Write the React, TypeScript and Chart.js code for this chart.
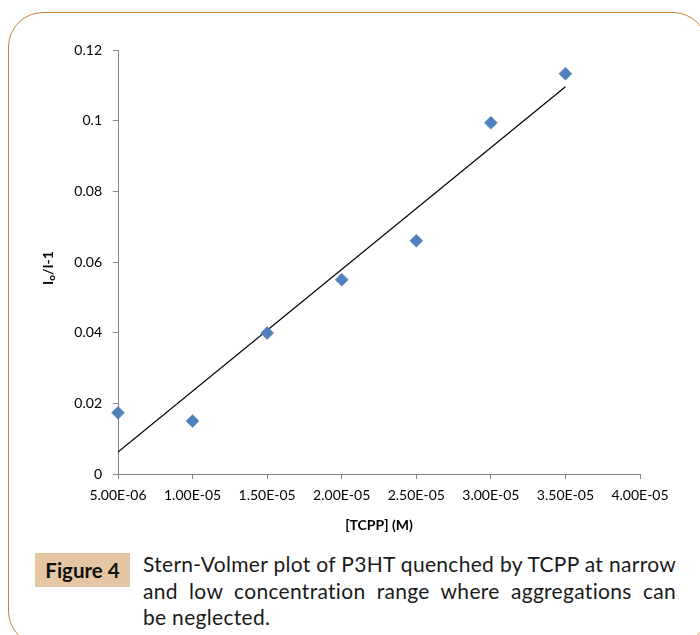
import React, { useEffect, useRef } from 'react';
import { Chart, registerables } from 'chart.js';

Chart.register(...registerables);

const concentrations = [5e-6, 1e-5, 1.5e-5, 2e-5, 2.5e-5, 3e-5, 3.5e-5];
const ratioValues = [0.0173, 0.015, 0.0399, 0.055, 0.066, 0.0994, 0.1133];
const trendX = [5e-6, 3.5e-5];
const trendY = [0.0062, 0.1096];
const xTickValues = [5e-6, 1e-5, 1.5e-5, 2e-5, 2.5e-5, 3e-5, 3.5e-5, 4e-5];
const xTickLabels = ['5.00E-06', '1.00E-05', '1.50E-05', '2.00E-05', '2.50E-05', '3.00E-05', '3.50E-05', '4.00E-05'];
const yTickValues = [0, 0.02, 0.04, 0.06, 0.08, 0.1, 0.12];
const yTickLabels = ['0', '0.02', '0.04', '0.06', '0.08', '0.1', '0.12'];
const xTitle = '[TCPP] (M)';
const yTitleMain = 'I';
const yTitleSub = 'o';
const yTitleRest = '/I-1';
const figureLabel = 'Figure 4';
const captionLines = [
  'Stern-Volmer plot of P3HT quenched by TCPP at narrow',
  'and low concentration range where aggregations can',
  'be neglected.',
];

const FONT = 'Lato, "Open Sans", sans-serif';
const AXIS_COLOR = '#868686';

const titlesPlugin = {
  id: 'axisTitles',
  afterDraw(chart: any) {
    const ctx = chart.ctx;
    const area = chart.chartArea;
    ctx.save();
    ctx.fillStyle = '#000';
    ctx.font = `bold 14px ${FONT}`;
    ctx.textAlign = 'center';
    ctx.textBaseline = 'middle';
    ctx.fillText(xTitle, (area.left + area.right) / 2, 525);
    ctx.translate(48, 268);
    ctx.rotate(-Math.PI / 2);
    ctx.textAlign = 'left';
    ctx.textBaseline = 'middle';
    const mainFont = `bold 14px ${FONT}`;
    const subFont = `bold 10px ${FONT}`;
    ctx.font = mainFont;
    const w1 = ctx.measureText(yTitleMain).width;
    ctx.font = subFont;
    const w2 = ctx.measureText(yTitleSub).width;
    ctx.font = mainFont;
    const w3 = ctx.measureText(yTitleRest).width;
    const total = w1 + w2 + w3;
    let x = -total / 2;
    ctx.font = mainFont;
    ctx.fillText(yTitleMain, x, 0);
    x += w1;
    ctx.font = subFont;
    ctx.fillText(yTitleSub, x, 4);
    x += w2;
    ctx.font = mainFont;
    ctx.fillText(yTitleRest, x, 0);
    ctx.restore();
  },
};

function ChartCanvas() {
  const ref = useRef<HTMLCanvasElement | null>(null);
  useEffect(() => {
    if (!ref.current) return;
    const chart = new Chart(ref.current, {
      type: 'scatter',
      data: {
        datasets: [
          {
            type: 'scatter',
            data: concentrations.map((c, i) => ({ x: c, y: ratioValues[i] })),
            pointStyle: 'rectRot',
            pointRadius: 6.5,
            backgroundColor: '#4f81bd',
            borderColor: '#4f81bd',
            borderWidth: 0.5,
            clip: false as any,
            order: 0,
          },
          {
            type: 'line',
            data: trendX.map((c, i) => ({ x: c, y: trendY[i] })),
            borderColor: '#000',
            borderWidth: 1.2,
            pointRadius: 0,
            fill: false,
            order: 1,
          } as any,
        ],
      },
      options: {
        animation: false,
        responsive: false,
        maintainAspectRatio: false,
        layout: { padding: { top: 50, right: 60, left: 0, bottom: 0 } },
        plugins: { legend: { display: false }, tooltip: { enabled: false }, title: { display: false } },
        scales: {
          x: {
            type: 'linear',
            min: 5e-6,
            max: 4e-5,
            afterBuildTicks: (scale: any) => {
              scale.ticks = xTickValues.map((v) => ({ value: v }));
            },
            afterFit: (scale: any) => {
              scale.height = 66;
            },
            grid: { display: true, drawOnChartArea: false, drawTicks: true, tickLength: 5, color: AXIS_COLOR },
            border: { display: true, color: AXIS_COLOR, width: 1 },
            ticks: {
              padding: 8,
              color: '#000',
              font: { family: FONT, size: 14 },
              maxRotation: 0,
              autoSkip: false,
              callback: (_v: any, i: number) => xTickLabels[i],
            },
          },
          y: {
            type: 'linear',
            min: 0,
            max: 0.12,
            afterBuildTicks: (scale: any) => {
              scale.ticks = yTickValues.map((v) => ({ value: v }));
            },
            afterFit: (scale: any) => {
              scale.width = 118;
            },
            grid: { display: true, drawOnChartArea: false, drawTicks: true, tickLength: 5, color: AXIS_COLOR },
            border: { display: true, color: AXIS_COLOR, width: 1 },
            ticks: {
              padding: 11,
              color: '#000',
              font: { family: FONT, size: 14 },
              autoSkip: false,
              callback: (_v: any, i: number) => yTickLabels[i],
            },
          },
        },
      },
      plugins: [titlesPlugin],
    });
    return () => chart.destroy();
  }, []);
  return (
    <canvas
      ref={ref}
      width={700}
      height={540}
      style={{ position: 'absolute', left: 0, top: 0, width: 700, height: 540 }}
    />
  );
}

export default function App() {
  return (
    <div
      style={{
        position: 'absolute',
        left: 0,
        top: 0,
        width: 700,
        height: 635,
        overflow: 'hidden',
        background: '#fff',
        fontFamily: FONT,
        color: '#1a1a1a',
      }}
    >
      <div
        style={{
          position: 'absolute',
          left: 8,
          top: 12,
          width: 700,
          height: 634,
          boxSizing: 'border-box',
          border: '1.5px solid #c8843c',
          borderRadius: 35,
        }}
      />
      <ChartCanvas />
      <div
        style={{
          position: 'absolute',
          left: 35,
          top: 553,
          width: 95,
          height: 34,
          background: '#e4c6a4',
          display: 'flex',
          alignItems: 'center',
          justifyContent: 'center',
          fontWeight: 700,
          fontSize: 20.5,
          color: '#111',
        }}
      >
        {figureLabel}
      </div>
      <div style={{ position: 'absolute', left: 143, top: 551, width: 533, fontSize: 21, lineHeight: '26.5px', letterSpacing: 0.3 }}>
        {captionLines.map((line, i) => (
          <div
            key={i}
            style={{
              textAlign: i < captionLines.length - 1 ? 'justify' : 'left',
              textAlignLast: i < captionLines.length - 1 ? 'justify' : 'left',
              whiteSpace: 'nowrap',
            }}
          >
            {line}
          </div>
        ))}
      </div>
    </div>
  );
}
